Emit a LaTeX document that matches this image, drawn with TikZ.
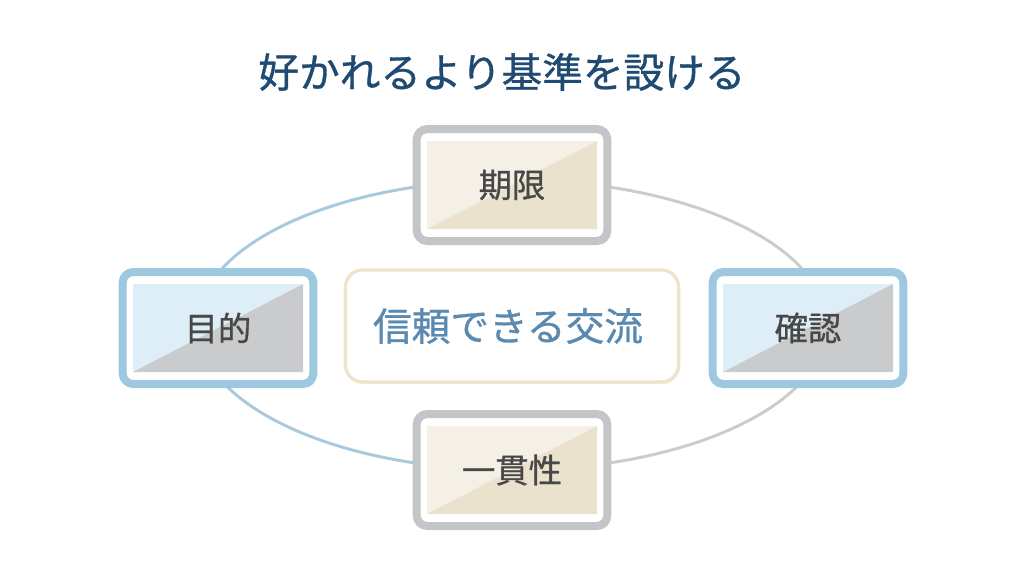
\documentclass[tikz,border=0pt]{standalone}
\usepackage{fontspec}
\setmainfont{Noto Sans CJK JP}
\newfontfamily\midweight[FakeBold=0.8]{Noto Sans CJK JP}
\usepackage{xcolor}
\usepackage{tikz}
\usetikzlibrary{shadows}

\definecolor{titleblue}{HTML}{1F4A72}
\definecolor{centerblue}{HTML}{5A8AB0}
\definecolor{creamline}{HTML}{EDE4CC}
\definecolor{frameblue}{HTML}{9EC8E0}
\definecolor{framegray}{HTML}{C3C5C8}
\definecolor{ringblue}{HTML}{A9C9DD}
\definecolor{ringgray}{HTML}{CCCCCC}
\definecolor{fillblue}{HTML}{DDEEF8}
\definecolor{fillgray}{HTML}{C9CBCD}
\definecolor{fillcream}{HTML}{F4F0E5}
\definecolor{filltan}{HTML}{EBE2CD}
\definecolor{labelgray}{HTML}{484848}

\tikzset{
  panel/.style={draw=#1, line width=6pt, fill=white, rounded corners=8pt,
    minimum width=143pt, minimum height=84pt,
    drop shadow={opacity=0.3, shadow xshift=2pt, shadow yshift=-2.5pt}},
  panellabel/.style={text=labelgray, font=\midweight\fontsize{25}{30}\selectfont},
  ring/.style={line width=2.2pt, draw=#1}
}

\begin{document}
\begin{tikzpicture}[x=0.75pt, y=-0.75pt]
		\useasboundingbox[fill=white] (0,0) rectangle (1024,572);
		% Title:
		\node[text=titleblue, font=\midweight\fontsize{30.5}{36}\selectfont](title) at (502,72){好かれるより基準を設ける};
		% Ring behind the panels:
		\draw[ring=ringblue] (512,180) arc[start angle=90, end angle=270, x radius=236pt, y radius=108.75pt];
		\draw[ring=ringgray] (512,180) arc[start angle=90, end angle=-90, x radius=236pt, y radius=108.75pt];
		% Centre box:
		\node[draw=creamline, line width=2.5pt, fill=white, rounded corners=13pt,
			minimum width=250pt, minimum height=84pt,
			drop shadow={opacity=0.12, shadow xshift=1pt, shadow yshift=-1.5pt}](core) at (512,326){};
		\node[text=centerblue, font=\midweight\fontsize{29}{34}\selectfont] at (508,326){信頼できる交流};
		% Panels:
		\node[panel=framegray](kigen) at (512,185){};
		\node[panel=frameblue](mokuteki) at (218,328){};
		\node[panel=frameblue](kakunin) at (808,328){};
		\node[panel=framegray](ikkansei) at (512,470){};
		\begin{scope}[shift={(kigen.center)}]
			\fill[fillcream] (-85,44) -- (-85,-44) -- (85,-44) -- cycle;
			\fill[filltan] (-85,44) -- (85,-44) -- (85,44) -- cycle;
		\end{scope}
		\begin{scope}[shift={(mokuteki.center)}]
			\fill[fillblue] (-85,44) -- (-85,-44) -- (85,-44) -- cycle;
			\fill[fillgray] (-85,44) -- (85,-44) -- (85,44) -- cycle;
		\end{scope}
		\begin{scope}[shift={(kakunin.center)}]
			\fill[fillblue] (-85,44) -- (-85,-44) -- (85,-44) -- cycle;
			\fill[fillgray] (-85,44) -- (85,-44) -- (85,44) -- cycle;
		\end{scope}
		\begin{scope}[shift={(ikkansei.center)}]
			\fill[fillcream] (-85,44) -- (-85,-44) -- (85,-44) -- cycle;
			\fill[filltan] (-85,44) -- (85,-44) -- (85,44) -- cycle;
		\end{scope}
		\node[panellabel] at (kigen.center){期限};
		\node[panellabel] at (mokuteki.center){目的};
		\node[panellabel] at (kakunin.center){確認};
		\node[panellabel] at (ikkansei.center){一貫性};
	\end{tikzpicture}
\end{document}
